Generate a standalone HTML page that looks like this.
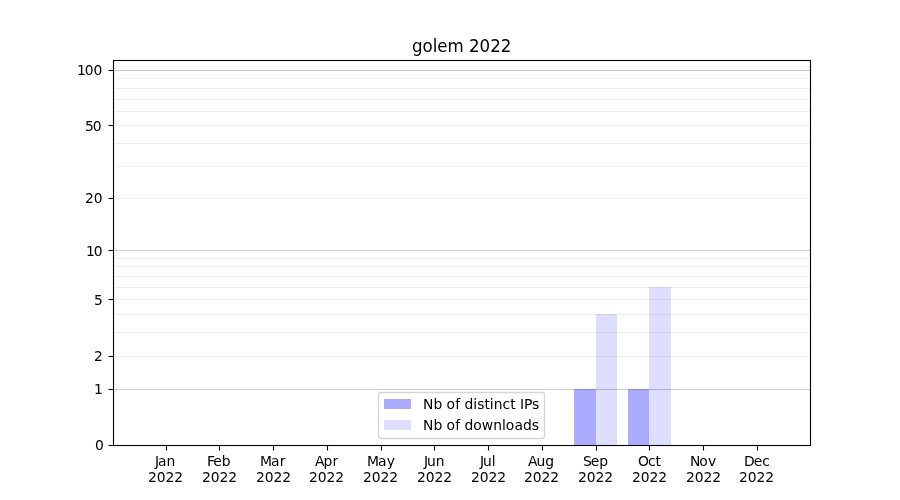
<!DOCTYPE html>
<html lang="en">
<head>
<meta charset="utf-8">
<title>golem 2022</title>
<style>
html,body{margin:0;padding:0;background:#fff;}
body{width:900px;height:500px;overflow:hidden;}
svg{display:block;}
text{font-family:"DejaVu Sans","Liberation Sans",sans-serif;fill:#000;white-space:pre;}
.t{font-size:13.8889px;}
.title{font-size:16.6667px;}
</style>
</head>
<body>
<svg xmlns="http://www.w3.org/2000/svg" width="900" height="500" viewBox="0 0 900 500">
<rect x="0" y="0" width="900" height="500" fill="#ffffff"/>
<!-- horizontal grid lines (log1p scale): minor -->
<g fill="#eeeeee">
<rect x="113.5" y="355.9445" width="697.0" height="1.1111"/>
<rect x="113.5" y="331.9445" width="697.0" height="1.1111"/>
<rect x="113.5" y="313.9445" width="697.0" height="1.1111"/>
<rect x="113.5" y="298.9445" width="697.0" height="1.1111"/>
<rect x="113.5" y="286.9445" width="697.0" height="1.1111"/>
<rect x="113.5" y="275.9445" width="697.0" height="1.1111"/>
<rect x="113.5" y="265.9445" width="697.0" height="1.1111"/>
<rect x="113.5" y="257.9445" width="697.0" height="1.1111"/>
<rect x="113.5" y="197.9444" width="697.0" height="1.1111"/>
<rect x="113.5" y="165.9444" width="697.0" height="1.1111"/>
<rect x="113.5" y="142.9444" width="697.0" height="1.1111"/>
<rect x="113.5" y="124.9445" width="697.0" height="1.1111"/>
<rect x="113.5" y="110.9445" width="697.0" height="1.1111"/>
<rect x="113.5" y="98.9445" width="697.0" height="1.1111"/>
<rect x="113.5" y="87.9445" width="697.0" height="1.1111"/>
<rect x="113.5" y="77.9445" width="697.0" height="1.1111"/>
</g>
<!-- major grid lines -->
<g fill="#cccccc">
<rect x="113.5" y="388.9445" width="697.0" height="1.1111"/>
<rect x="113.5" y="249.9444" width="697.0" height="1.1111"/>
<rect x="113.5" y="69.9445" width="697.0" height="1.1111"/>
</g>
<!-- bars -->
<g fill="#0000ff">
<rect x="574" y="389" width="22" height="56.5" fill-opacity="0.33"/>
<rect x="628" y="389" width="21" height="56.5" fill-opacity="0.33"/>
<rect x="596" y="314" width="21" height="131.5" fill-opacity="0.13"/>
<rect x="649" y="287" width="22" height="158.5" fill-opacity="0.13"/>
</g>
<!-- tick marks -->
<g fill="#000000">
<rect x="165.9444" y="445.5" width="1.1111" height="5"/>
<rect x="218.9444" y="445.5" width="1.1111" height="5"/>
<rect x="272.9445" y="445.5" width="1.1111" height="5"/>
<rect x="326.9445" y="445.5" width="1.1111" height="5"/>
<rect x="380.9445" y="445.5" width="1.1111" height="5"/>
<rect x="433.9445" y="445.5" width="1.1111" height="5"/>
<rect x="487.9445" y="445.5" width="1.1111" height="5"/>
<rect x="541.9444" y="445.5" width="1.1111" height="5"/>
<rect x="595.9444" y="445.5" width="1.1111" height="5"/>
<rect x="648.9444" y="445.5" width="1.1111" height="5"/>
<rect x="702.9444" y="445.5" width="1.1111" height="5"/>
<rect x="756.9444" y="445.5" width="1.1111" height="5"/>
<rect x="108.5" y="69.9445" width="5" height="1.1111"/>
<rect x="108.5" y="124.9445" width="5" height="1.1111"/>
<rect x="108.5" y="197.9444" width="5" height="1.1111"/>
<rect x="108.5" y="249.9444" width="5" height="1.1111"/>
<rect x="108.5" y="298.9445" width="5" height="1.1111"/>
<rect x="108.5" y="355.9445" width="5" height="1.1111"/>
<rect x="108.5" y="388.9445" width="5" height="1.1111"/>
<rect x="108.5" y="444.9445" width="5" height="1.1111"/>
</g>
<!-- axes frame -->
<rect x="113.5" y="60.5" width="697.0" height="385.0" fill="none" stroke="#000000" stroke-width="1.1111"/>
<!-- y tick labels -->
<g class="t">
<text x="76.94 84.63 93.46" y="74.5">100</text>
<text x="84.89 92.71" y="130.5">50</text>
<text x="84.89 93.71" y="202.5">20</text>
<text x="85.89 93.71" y="255.5">10</text>
<text x="93.97" y="304.5">5</text>
<text x="93.97" y="360.5">2</text>
<text x="93.97" y="393.5">1</text>
<text x="94.97" y="449.5">0</text>
</g>
<!-- x tick labels -->
<g class="t">
<text x="154.93 157.88 166.4" y="465.5">Jan</text>
<text x="147.97 156.66 165.48 174.31" y="481.5">2022</text>
<text x="206.96 213.18 221.71" y="465.5">Feb</text>
<text x="201.97 210.66 219.48 228.31" y="481.5">2022</text>
<text x="259.91 270.88 279.75" y="465.5">Mar</text>
<text x="255.97 264.66 273.48 282.31" y="481.5">2022</text>
<text x="314.99 323.48 332.54" y="465.5">Apr</text>
<text x="308.97 317.66 326.48 335.31" y="481.5">2022</text>
<text x="366.91 378.12 386.75" y="465.5">May</text>
<text x="362.97 371.66 380.48 389.31" y="481.5">2022</text>
<text x="423.91 426.98 435.78" y="465.5">Jun</text>
<text x="416.97 425.66 434.48 443.31" y="481.5">2022</text>
<text x="479.88 482.95 491.75" y="465.5">Jul</text>
<text x="470.97 479.66 488.48 497.31" y="481.5">2022</text>
<text x="527.95 536.44 545.23" y="465.5">Aug</text>
<text x="523.97 532.66 541.48 550.31" y="481.5">2022</text>
<text x="582.92 590.72 599.27" y="465.5">Sep</text>
<text x="577.97 586.66 595.48 604.31" y="481.5">2022</text>
<text x="637.88 647.91 655.55" y="465.5">Oct</text>
<text x="631.97 640.66 649.48 658.31" y="481.5">2022</text>
<text x="689.95 699.2 708.06" y="465.5">Nov</text>
<text x="685.97 694.66 703.48 712.31" y="481.5">2022</text>
<text x="743.95 753.74 762.29" y="465.5">Dec</text>
<text x="738.97 747.66 756.48 765.31" y="481.5">2022</text>
</g>
<!-- title -->
<text class="title" transform="translate(0,51.5) scale(1,1.0833)" x="411.99 422.56 432.73 437.36 447.62 463.83 469.12 479.47 490.32 500.66" y="0">golem 2022</text>
<!-- legend -->
<g class="t">
<path d="M381.28 392.5L541.72 392.5Q544.5 392.5 544.5 395.28L544.5 435.72Q544.5 438.5 541.72 438.5L381.28 438.5Q378.5 438.5 378.5 435.72L378.5 395.28Q378.5 392.5 381.28 392.5Z" fill="#ffffff" fill-opacity="0.8" stroke="#cccccc" stroke-opacity="0.8" stroke-width="1.3889"/>
<rect x="384" y="399" width="27" height="10" fill="#0000ff" fill-opacity="0.33"/>
<rect x="384" y="420" width="27" height="10" fill="#0000ff" fill-opacity="0.13"/>
<text x="423 433.38 442.17 446.59 455.2 459.97 464.38 473.19 477.16 484.39 489.7 493.69 502.48 510.23 515.42 519.95 523.92 532.05" y="408.5">Nb of distinct IPs</text>
<text x="423 433.38 442.17 446.59 455.2 459.97 464.38 473.19 481.67 493.14 501.94 505.67 514.41 522.91 531.72" y="429.5">Nb of downloads</text>
</g>
</svg>
</body>
</html>
